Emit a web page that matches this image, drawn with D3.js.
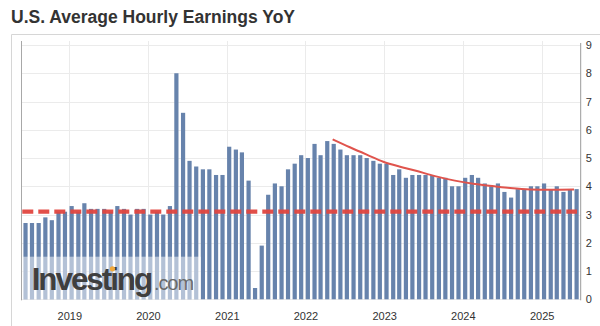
<!DOCTYPE html>
<html>
<head>
<meta charset="utf-8">
<script src="https://cdn.jsdelivr.net/npm/d3@7"></script>
<style>
  html, body { margin: 0; padding: 0; background: #fff; }
  svg { display: block; font-family: "Liberation Sans", Arial, sans-serif; }
</style>
</head>
<body>
<svg id="chart" width="600" height="326"></svg>
<script>
// ---------------- data ----------------
const title = "U.S. Average Hourly Earnings YoY";

// release months (bar categories)
const categories = [
  "2018-06","2018-07","2018-08","2018-09","2018-10","2018-11","2018-12",
  "2019-01","2019-02","2019-03","2019-04","2019-05","2019-06","2019-07","2019-08","2019-09","2019-10","2019-11","2019-12",
  "2020-01","2020-02","2020-03","2020-04","2020-05","2020-06","2020-07","2020-08","2020-09","2020-10","2020-11","2020-12",
  "2021-01","2021-02","2021-03","2021-04","2021-05","2021-06","2021-07","2021-08","2021-09","2021-10","2021-11","2021-12",
  "2022-01","2022-02","2022-03","2022-04","2022-05","2022-06","2022-07","2022-08","2022-09","2022-10","2022-11","2022-12",
  "2023-01","2023-02","2023-03","2023-04","2023-05","2023-06","2023-07","2023-08","2023-09","2023-10","2023-11","2023-12",
  "2024-01","2024-02","2024-03","2024-04","2024-05","2024-06","2024-07","2024-08","2024-09","2024-10","2024-11","2024-12",
  "2025-01","2025-02","2025-03","2025-04","2025-05","2025-06"
];

// YoY % values
const values = [
  2.7, 2.7, 2.7, 2.9, 2.8, 3.1, 3.1,
  3.3, 3.1, 3.4, 3.2, 3.2, 3.2, 3.1, 3.3, 3.2, 3.0, 3.2, 3.2,
  3.0, 3.1, 3.0, 3.3, 8.0, 6.6, 4.9, 4.7, 4.6, 4.6, 4.4, 4.4,
  5.4, 5.3, 5.2, 4.2, 0.4, 1.9, 3.7, 4.1, 4.0, 4.6, 4.8, 5.1,
  5.0, 5.5, 5.1, 5.6, 5.5, 5.3, 5.1, 5.1, 5.1, 5.0, 4.9, 4.8,
  4.8, 4.4, 4.6, 4.3, 4.4, 4.4, 4.4, 4.4, 4.3, 4.3, 4.0, 4.0,
  4.3, 4.4, 4.3, 4.1, 4.0, 4.1, 3.8, 3.6, 3.9, 3.9, 4.0, 4.0,
  4.1, 3.9, 4.0, 3.8, 3.9, 3.9
];
const releaseDay = 12; // approximate day of month of each release

const yTicks = [0, 1, 2, 3, 4, 5, 6, 7, 8, 9];
const xTickLabels = ["2019", "2020", "2021", "2022", "2023", "2024", "2025"];

// red dashed average level
const avgLevel = 3.1;
const avgSpan = ["2018-05-28", "2025-06-14"];

// red trend curve
const trendDates  = ["2022-05-07","2022-07-26","2022-10-12","2022-12-28","2023-03-12","2023-05-24","2023-08-25",
                     "2023-11-25","2024-02-26","2024-05-26","2024-08-07","2024-11-08","2025-02-08","2025-05-31"];
const trendValues = [5.66, 5.38, 5.12, 4.87, 4.70, 4.56, 4.36, 4.20, 4.08, 4.00, 3.94, 3.89, 3.88, 3.89];

const domainDates = ["2018-05-22", "2025-07-01"];

// ---------------- drawing ----------------
const parseDay = d3.timeParse("%Y-%m-%d");
const parseMonth = d3.timeParse("%Y-%m");
const svg = d3.select("#chart");

const plot = { left: 21, right: 580.7, top: 41, bottom: 299.3 };

const x = d3.scaleTime()
  .domain(domainDates.map(parseDay))
  .range([plot.left, plot.right]);
const y = d3.scaleLinear()
  .domain([0, 9])
  .range([plot.bottom, 45]);

const barData = categories.map((c, i) => ({ date: d3.timeDay.offset(parseMonth(c), releaseDay - 1), value: values[i] }));
const yearDates = xTickLabels.map(s => parseMonth(s + "-01"));

// outer frame lines
svg.append("line").attr("x1", 11.5).attr("x2", 600).attr("y1", 34.5).attr("y2", 34.5)
  .attr("stroke", "#d6d6d6").attr("stroke-width", 1);
svg.append("line").attr("x1", 11.5).attr("x2", 11.5).attr("y1", 34.5).attr("y2", 326)
  .attr("stroke", "#d6d6d6").attr("stroke-width", 1);

// title
svg.append("text")
  .attr("x", 11).attr("y", 22.7)
  .attr("font-size", 18).attr("font-weight", "bold")
  .attr("fill", "#333")
  .attr("textLength", 284).attr("lengthAdjust", "spacingAndGlyphs")
  .text(title);

// gridlines
const grid = svg.append("g");
grid.selectAll("line.h").data(yTicks).join("line")
  .attr("class", "h")
  .attr("x1", plot.left).attr("x2", plot.right)
  .attr("y1", d => Math.round(y(d)) + 0.5).attr("y2", d => Math.round(y(d)) + 0.5)
  .attr("stroke", "#ebebeb").attr("stroke-width", 1);
grid.selectAll("line.v").data(yearDates).join("line")
  .attr("class", "v")
  .attr("x1", d => Math.round(x(d)) + 0.5).attr("x2", d => Math.round(x(d)) + 0.5)
  .attr("y1", plot.top).attr("y2", plot.bottom)
  .attr("stroke", "#ebebeb").attr("stroke-width", 1);

// left plot border
svg.append("line").attr("x1", plot.left + 0.5).attr("x2", plot.left + 0.5)
  .attr("y1", plot.top).attr("y2", plot.bottom + 1)
  .attr("stroke", "#a8a8a8").attr("stroke-width", 1);

// bars
const barW = 4.2;
svg.append("g").selectAll("rect").data(barData).join("rect")
  .attr("x", d => x(d.date) - barW / 2)
  .attr("width", barW)
  .attr("y", d => y(d.value))
  .attr("height", d => y(0) - y(d.value))
  .attr("fill", "#6783ac");

// watermark
const wm = svg.append("g");
wm.append("rect").attr("x", plot.left + 1).attr("y", 256.7)
  .attr("width", 179).attr("height", plot.bottom - 256.7)
  .attr("fill", "#fff").attr("fill-opacity", 0.5);
const inv = wm.append("text")
  .attr("x", 31.7).attr("y", 290)
  .attr("font-size", 31.5).attr("font-weight", "bold")
  .attr("letter-spacing", -2.1)
  .attr("fill", "#3f3f3f")
  .text("Investing");
wm.append("text")
  .attr("x", 154).attr("y", 290)
  .attr("font-size", 20)
  .attr("letter-spacing", -1.1)
  .attr("fill", "#6a6a6a")
  .text(".com");
try {
  const ext = inv.node().getExtentOfChar(6);
  wm.append("circle")
    .attr("cx", ext.x + ext.width / 2 - 1)
    .attr("cy", 268.8)
    .attr("r", 2.6)
    .attr("fill", "#f2a93b");
} catch (e) {}

// red dashed average line
svg.append("line")
  .attr("x1", x(parseDay(avgSpan[0]))).attr("x2", x(parseDay(avgSpan[1])))
  .attr("y1", y(avgLevel)).attr("y2", y(avgLevel))
  .attr("stroke", "#e0463f").attr("stroke-width", 4.2)
  .attr("stroke-dasharray", "11,5")
  .attr("stroke-opacity", 0.95);

// red trend curve
const trend = trendDates.map((d, i) => ({ date: parseDay(d), value: trendValues[i] }));
svg.append("path")
  .datum(trend)
  .attr("fill", "none")
  .attr("stroke", "#e0544d").attr("stroke-width", 2)
  .attr("d", d3.line().x(d => x(d.date)).y(d => y(d.value)).curve(d3.curveMonotoneX));

// right axis
svg.append("line").attr("x1", plot.right).attr("x2", plot.right)
  .attr("y1", plot.top + 2).attr("y2", plot.bottom + 1)
  .attr("stroke", "#9a9a9a").attr("stroke-width", 1);
const yAxis = svg.append("g")
  .attr("transform", `translate(${plot.right},0)`)
  .call(d3.axisRight(y).tickValues(yTicks).tickSize(0).tickPadding(5).tickFormat(d3.format("d")));
yAxis.select(".domain").remove();
yAxis.selectAll("text").attr("font-size", 11).attr("fill", "#333")
  .attr("font-family", "\"Liberation Sans\", Arial, sans-serif");

// bottom axis
const xAxis = svg.append("g")
  .attr("transform", `translate(0,${plot.bottom})`)
  .call(d3.axisBottom(x).tickValues(yearDates).tickSize(0).tickPadding(13)
    .tickFormat((d, i) => xTickLabels[i]));
xAxis.select(".domain").remove();
xAxis.selectAll("text").attr("font-size", 11).attr("fill", "#333")
  .attr("font-family", "\"Liberation Sans\", Arial, sans-serif");
</script>
</body>
</html>
